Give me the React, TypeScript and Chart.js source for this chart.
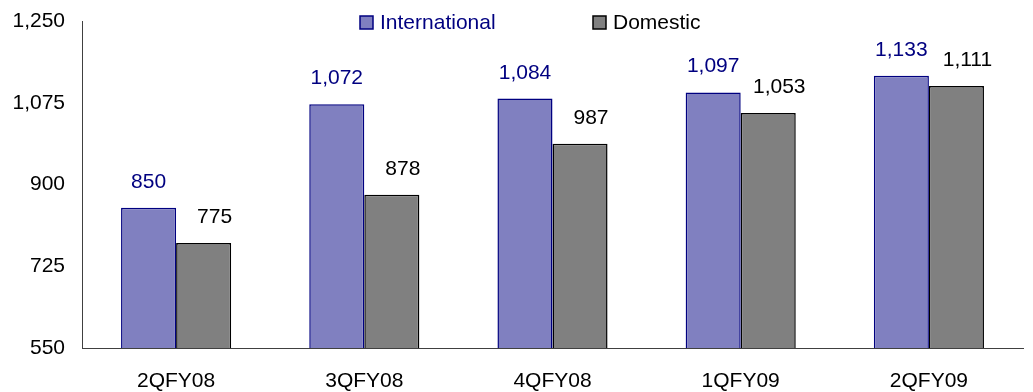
import React, { useEffect, useRef } from "react";
import { Chart, registerables } from "chart.js";

Chart.register(...registerables);

const categories = ["2QFY08", "3QFY08", "4QFY08", "1QFY09", "2QFY09"];
const international = [850, 1072, 1084, 1097, 1133];
const domestic = [775, 878, 987, 1053, 1111];
const yTicks = [550, 725, 900, 1075, 1250];

const FONT = "'Liberation Sans', Arial, sans-serif";
const FS = 21;

const labelPlugin = {
  id: "valueLabels",
  afterDatasetsDraw(chart: any) {
    const ctx = chart.ctx;
    ctx.save();
    ctx.font = `${FS}px ${FONT}`;
    ctx.textAlign = "center";
    ctx.textBaseline = "alphabetic";
    chart.data.datasets.forEach((ds: any, di: number) => {
      const meta = chart.getDatasetMeta(di);
      meta.data.forEach((bar: any, i: number) => {
        const v = ds.data[i] as number;
        ctx.fillStyle = di === 0 ? "#000080" : "#000000";
        const dx = di === 0 ? 0 : 11;
        ctx.fillText(v.toLocaleString("en-US"), bar.x + dx, bar.y - 20);
      });
    });
    ctx.restore();
  },
};

const legendPlugin = {
  id: "customLegend",
  afterDraw(chart: any) {
    const ctx = chart.ctx;
    ctx.save();
    ctx.font = `${FS}px ${FONT}`;
    ctx.textBaseline = "middle";
    ctx.textAlign = "left";
    const items = [
      { x: 360, label: "International", fill: "#8080c0", stroke: "#000080", color: "#000080" },
      { x: 593, label: "Domestic", fill: "#808080", stroke: "#000000", color: "#000000" },
    ];
    items.forEach((it) => {
      ctx.fillStyle = it.fill;
      ctx.fillRect(it.x, 16, 13, 13);
      ctx.strokeStyle = it.stroke;
      ctx.lineWidth = 1.5;
      ctx.strokeRect(it.x, 16, 13, 13);
      ctx.fillStyle = it.color;
      ctx.fillText(it.label, it.x + 20, 23);
    });
    ctx.restore();
  },
};

export default function App() {
  const ref = useRef<HTMLCanvasElement>(null);
  useEffect(() => {
    if (!ref.current) return;
    const chart = new Chart(ref.current, {
      type: "bar",
      data: {
        labels: categories,
        datasets: [
          {
            label: "International",
            data: international,
            backgroundColor: "#8080c0",
            borderColor: "#000080",
            borderWidth: 1.5,
            borderSkipped: "bottom",
            barPercentage: 1,
            categoryPercentage: 0.585,
          },
          {
            label: "Domestic",
            data: domestic,
            backgroundColor: "#808080",
            borderColor: "#000000",
            borderWidth: 1.5,
            borderSkipped: "bottom",
            barPercentage: 1,
            categoryPercentage: 0.585,
          },
        ],
      },
      options: {
        animation: false,
        responsive: true,
        maintainAspectRatio: false,
        layout: { padding: { left: 0, right: 10, top: 21, bottom: 0 } },
        plugins: {
          legend: { display: false },
          tooltip: { enabled: false },
        },
        scales: {
          x: {
            grid: { display: false, drawTicks: false },
            border: { display: true, color: "#404040", width: 1 },
            ticks: {
              color: "#000",
              font: { family: FONT, size: FS },
              padding: 21,
              maxRotation: 0,
            },
            afterFit(scale: any) {
              scale.height = 44;
            },
          },
          y: {
            min: 550,
            max: 1250,
            afterBuildTicks(scale: any) {
              scale.ticks = yTicks.map((v) => ({ value: v }));
            },
            grid: { display: false, drawTicks: false },
            border: { display: true, color: "#404040", width: 1 },
            ticks: {
              color: "#000",
              font: { family: FONT, size: FS },
              padding: 17,
              callback: (v: any) => Number(v).toLocaleString("en-US"),
            },
            afterFit(scale: any) {
              scale.width = 82;
              scale.paddingTop = 0;
              scale.paddingBottom = 0;
            },
          },
        },
      },
      plugins: [labelPlugin, legendPlugin],
    });
    return () => chart.destroy();
  }, []);

  return (
    <div style={{ position: "fixed", left: 0, top: 0, width: 1033, height: 392, background: "#fff" }}>
      <canvas ref={ref} />
    </div>
  );
}
